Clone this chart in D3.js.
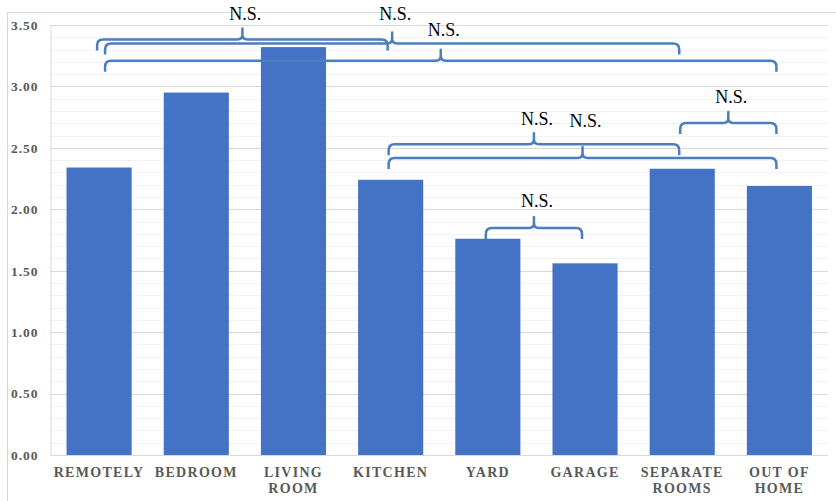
<!DOCTYPE html>
<html>
<head>
<meta charset="utf-8">
<script src="https://cdn.jsdelivr.net/npm/d3@7"></script>
<style>
  html, body { margin: 0; padding: 0; background: #fff; }
  svg { display: block; }
</style>
</head>
<body>
<svg id="chart" width="836" height="501"></svg>
<script>
// Mean score by location
const categories = ["REMOTELY", "BEDROOM", "LIVING ROOM", "KITCHEN", "YARD", "GARAGE", "SEPARATE ROOMS", "OUT OF HOME"];
const tickLines = [["REMOTELY"], ["BEDROOM"], ["LIVING", "ROOM"], ["KITCHEN"], ["YARD"], ["GARAGE"], ["SEPARATE", "ROOMS"], ["OUT OF", "HOME"]];
const values = [2.34, 2.95, 3.32, 2.24, 1.76, 1.56, 2.33, 2.19];
const yTicks = [0, 0.5, 1, 1.5, 2, 2.5, 3, 3.5];

// Non-significant pairwise comparisons: brace between two categories,
// drawn at `level` on the value axis, label baseline at `labelLevel`
const comparisons = [
  { from: "REMOTELY", to: "KITCHEN", level: 3.382, labelLevel: 3.541, label: "N.S." },
  { from: "REMOTELY", to: "SEPARATE ROOMS", level: 3.349, labelLevel: 3.541, label: "N.S." },
  { from: "REMOTELY", to: "OUT OF HOME", level: 3.209, labelLevel: 3.410, label: "N.S." },
  { from: "KITCHEN", to: "SEPARATE ROOMS", level: 2.529, labelLevel: 2.686, label: "N.S." },
  { from: "KITCHEN", to: "OUT OF HOME", level: 2.417, labelLevel: 2.670, label: "N.S." },
  { from: "SEPARATE ROOMS", to: "OUT OF HOME", level: 2.702, labelLevel: 2.865, label: "N.S." },
  { from: "YARD", to: "GARAGE", level: 1.848, labelLevel: 2.019, label: "N.S." }
];

const SERIF = '"Liberation Serif"';
const svg = d3.select("#chart");
const W = 836, H = 501;
const plot = { left: 50.5, right: 828, top: 25, bottom: 455 };

// outer chart frame
svg.append("rect")
  .attr("x", 7.5).attr("y", 12.5)
  .attr("width", W).attr("height", H)
  .attr("fill", "none").attr("stroke", "#d9d9d9").attr("stroke-width", 1);

const x = d3.scaleBand().domain(categories).range([plot.left, plot.right]).paddingInner(0.33).paddingOuter(0.165);
const y = d3.scaleLinear().domain([0, 3.5]).range([plot.bottom, plot.top]);

// minor gridlines every 0.1
const minor = d3.range(0, 3.5001, 0.1).map(v => +v.toFixed(2)).filter(v => Math.round(v * 10) % 5 !== 0);
svg.append("g").selectAll("line").data(minor).join("line")
  .attr("x1", plot.left).attr("x2", plot.right)
  .attr("y1", d => Math.round(y(d)) + 0.5).attr("y2", d => Math.round(y(d)) + 0.5)
  .attr("stroke", "#f2f2f2").attr("stroke-width", 1);

// major gridlines + tick labels via the axis generator
const yAxis = d3.axisLeft(y).tickValues(yTicks).tickFormat(d3.format(".2f")).tickSize(0).tickPadding(12);
const gy = svg.append("g").attr("transform", `translate(${plot.left},0)`).call(yAxis);
gy.select(".domain").attr("stroke", "#d9d9d9");
gy.selectAll("text")
  .style("font-family", SERIF)
  .style("font-weight", "bold").style("font-size", "13.5px")
  .style("letter-spacing", "1px")
  .attr("fill", "#595959");
svg.append("g").selectAll("line").data(yTicks.filter(v => v > 0)).join("line")
  .attr("x1", plot.left).attr("x2", plot.right)
  .attr("y1", d => Math.round(y(d)) + 0.5).attr("y2", d => Math.round(y(d)) + 0.5)
  .attr("stroke", "#d9d9d9").attr("stroke-width", 1);

// bars
svg.append("g").selectAll("rect").data(values).join("rect")
  .attr("x", (d, i) => x(categories[i]))
  .attr("width", x.bandwidth())
  .attr("y", d => y(d))
  .attr("height", d => y(0) - y(d))
  .attr("fill", "#4472c4");

// baseline
svg.append("line")
  .attr("x1", plot.left).attr("x2", plot.right)
  .attr("y1", y(0) + 0.5).attr("y2", y(0) + 0.5)
  .attr("stroke", "#d9d9d9").attr("stroke-width", 1);

// category labels
const xg = svg.append("g");
categories.forEach((c, i) => {
  const cx = x(c) + x.bandwidth() / 2;
  const t = xg.append("text")
    .attr("x", cx).attr("y", 477)
    .attr("text-anchor", "middle")
    .style("font-family", SERIF)
    .style("font-weight", "bold").style("font-size", "14px")
    .style("letter-spacing", "1.3px")
    .attr("fill", "#595959");
  tickLines[i].forEach((line, j) => {
    t.append("tspan").attr("x", cx).attr("dy", j === 0 ? 0 : 16).text(line);
  });
});

// curly brace path between x1 and x2 at height yl, opening downward
function bracePath(x1, x2, yl) {
  const r = 6, drop = 11, rise = 11, rt = 5;
  const xm = (x1 + x2) / 2;
  return [
    `M${x1},${yl + drop}`,
    `L${x1},${yl + r}`,
    `Q${x1},${yl} ${x1 + r},${yl}`,
    `L${xm - rt},${yl}`,
    `Q${xm},${yl} ${xm},${yl - rt}`,
    `L${xm},${yl - rise}`,
    `L${xm},${yl - rt}`,
    `Q${xm},${yl} ${xm + rt},${yl}`,
    `L${x2 - r},${yl}`,
    `Q${x2},${yl} ${x2},${yl + r}`,
    `L${x2},${yl + drop}`
  ].join(" ");
}

const center = c => x(c) + x.bandwidth() / 2;
// the two lower braces leaving REMOTELY start a little to the right so their ends don't merge
const leftNudge = [0, 8, 8, 0, 0, 0, 0];
const ends = comparisons.map((d, i) => ({
  x1: center(d.from) - 2 + leftNudge[i],
  x2: center(d.to) - 3
}));

const bg = svg.append("g");
bg.selectAll("path").data(comparisons).join("path")
  .attr("d", (d, i) => bracePath(ends[i].x1, ends[i].x2, y(d.level)))
  .attr("fill", "none")
  .attr("stroke", "#4a7ebf")
  .attr("stroke-width", 2.5)
  .attr("stroke-linejoin", "round");

bg.selectAll("text").data(comparisons).join("text")
  .attr("x", (d, i) => (ends[i].x1 + ends[i].x2) / 2 + 3)
  .attr("y", d => y(d.labelLevel))
  .attr("text-anchor", "middle")
  .style("font-family", SERIF)
  .style("font-size", "18px")
  .attr("fill", "#000")
  .text(d => d.label);
</script>
</body>
</html>
